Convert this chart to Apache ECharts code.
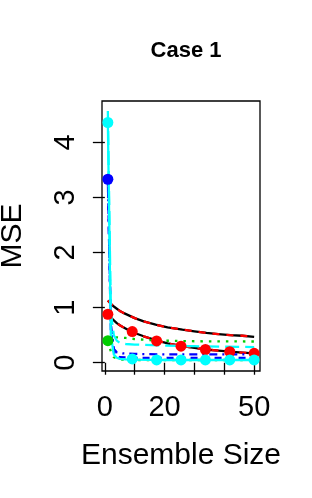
<!DOCTYPE html>
<html>
<head>
<meta charset="utf-8">
<script src="https://cdn.jsdelivr.net/npm/echarts@6/dist/echarts.min.js"></script>
<style>
html,body{margin:0;padding:0;background:#fff;}
#chart{width:312px;height:498px;}
</style>
</head>
<body>
<div id="chart"></div>
<script>
// ---- data ----
var curveX      = [1, 2, 3, 4, 5, 6, 8, 10, 13, 17, 21, 26, 30, 34, 38, 42, 46, 50];
var upperCurve  = [1.13, 1.07, 1.02, 0.98, 0.94, 0.91, 0.86, 0.81, 0.75, 0.69, 0.64, 0.60, 0.57, 0.54, 0.52, 0.50, 0.49, 0.47];
var lowerCurve  = [0.88, 0.82, 0.77, 0.72, 0.68, 0.65, 0.59, 0.54, 0.48, 0.41, 0.35, 0.30, 0.27, 0.24, 0.22, 0.20, 0.185, 0.17];

var greenUpX    = [1, 2, 4, 7, 10, 15, 20, 30, 50];
var greenUpY    = [0.40, 0.44, 0.46, 0.45, 0.43, 0.41, 0.40, 0.39, 0.385];
var greenLowX   = [1, 2, 3, 5, 10, 20, 50];
var greenLowY   = [0.40, 0.20, 0.10, 0.06, 0.05, 0.05, 0.05];

var cyanDashX   = [1, 2, 3, 4, 5, 7, 10, 20, 30, 40, 50];
var cyanDashY   = [4.57, 0.90, 0.50, 0.40, 0.36, 0.34, 0.33, 0.31, 0.30, 0.29, 0.285];
var cyanSolidX  = [1, 2, 3, 4, 5, 7, 10, 20, 50];
var cyanSolidY  = [4.36, 0.50, 0.15, 0.09, 0.07, 0.06, 0.055, 0.05, 0.05];

var blueDashX   = [1, 2, 3, 4, 5, 10, 20, 50];
var blueDashY   = [3.33, 0.60, 0.20, 0.12, 0.10, 0.09, 0.09, 0.09];
var blueDotDashX= [1, 2, 3, 4, 6, 10, 20, 50];
var blueDotDashY= [3.33, 0.70, 0.25, 0.19, 0.17, 0.16, 0.15, 0.15];

var pointX      = [1, 9.17, 17.33, 25.5, 33.67, 41.83, 50];
var redPointY   = [0.88, 0.565, 0.395, 0.30, 0.24, 0.20, 0.17];
var cyanPointY  = [4.36, 0.07, 0.05, 0.05, 0.05, 0.05, 0.05];
var bluePoint   = [1, 3.33];
var greenPoint  = [1, 0.40];

var xTicks      = [0, 10, 20, 30, 40, 50];
var xTickLabels = [0, 20, 50];
var yTicks      = [0, 1, 2, 3, 4];

function pairs(xs, ys){ return xs.map(function(x,i){ return [x, ys[i]]; }); }

var FONT = 'Liberation Sans';
function lineS(name, data, color, type, z){
  return {name:name, type:'line', data:data, symbol:'none', z:z||2, silent:true,
    lineStyle:{color:color, width:2.3, type:type, cap:'butt'}, animation:false};
}
function ptS(name, data, color){
  return {name:name, type:'scatter', data:data, symbol:'circle', symbolSize:11, z:5, silent:true,
    itemStyle:{color:color, opacity:1}, animation:false};
}

var chart = echarts.init(document.getElementById('chart'), null, {renderer:'canvas'});
chart.setOption({
  animation:false,
  backgroundColor:'#fff',
  title:{text:'Case 1', left:181, top:35, textAlign:'center',
    textStyle:{fontFamily:FONT, fontWeight:'bold', fontSize:22, color:'#000'}},
  grid:{left:102, top:101, width:158, height:270, show:true, borderColor:'#000', borderWidth:1.3,
    containLabel:false, outerBoundsMode:'none'},
  xAxis:{type:'value', min:-0.96, max:51.96,
    axisLine:{show:false}, splitLine:{show:false},
    axisTick:{show:true, length:12, customValues:xTicks, lineStyle:{color:'#000', width:1.3}},
    axisLabel:{customValues:xTickLabels, fontFamily:FONT, fontSize:29, color:'#000', margin:22},
    name:'Ensemble Size', nameLocation:'middle', nameGap:70,
    nameTextStyle:{fontFamily:FONT, fontSize:30, color:'#000'}},
  yAxis:{type:'value', min:-0.15, max:4.75,
    axisLine:{show:false}, splitLine:{show:false},
    axisTick:{show:true, length:12, customValues:yTicks, lineStyle:{color:'#000', width:1.3}},
    axisLabel:{customValues:yTicks, rotate:90, fontFamily:FONT, fontSize:29, color:'#000', margin:22},
    name:'MSE', nameLocation:'middle', nameGap:74,
    nameTextStyle:{fontFamily:FONT, fontSize:30, color:'#000'}},
  series:[
    lineS('upper-black', pairs(curveX, upperCurve), '#000000', 'solid', 2),
    lineS('upper-red', pairs(curveX, upperCurve), '#FF0000', [7,7], 3),
    lineS('lower-black', pairs(curveX, lowerCurve), '#000000', 'solid', 2),
    lineS('lower-red', pairs(curveX, lowerCurve), '#FF0000', [7,7], 3),
    lineS('green-up', pairs(greenUpX, greenUpY), '#00CD00', [2.5,6], 3),
    lineS('green-low', pairs(greenLowX, greenLowY), '#00CD00', [2.5,6], 3),
    lineS('blue-dash', pairs(blueDashX, blueDashY), '#0000FF', [7,5], 3),
    lineS('blue-dotdash', pairs(blueDotDashX, blueDotDashY), '#0000FF', [2,5,8,5], 3),
    lineS('cyan-dash', pairs(cyanDashX, cyanDashY), '#00FFFF', [14,6], 4),
    lineS('cyan-solid', pairs(cyanSolidX, cyanSolidY), '#00FFFF', 'solid', 4),
    ptS('red-pts', pairs(pointX, redPointY), '#FF0000'),
    ptS('blue-pt', [bluePoint], '#0000FF'),
    ptS('green-pt', [greenPoint], '#00CD00'),
    ptS('cyan-pts', pairs(pointX, cyanPointY), '#00FFFF')
  ]
});
</script>
</body>
</html>
